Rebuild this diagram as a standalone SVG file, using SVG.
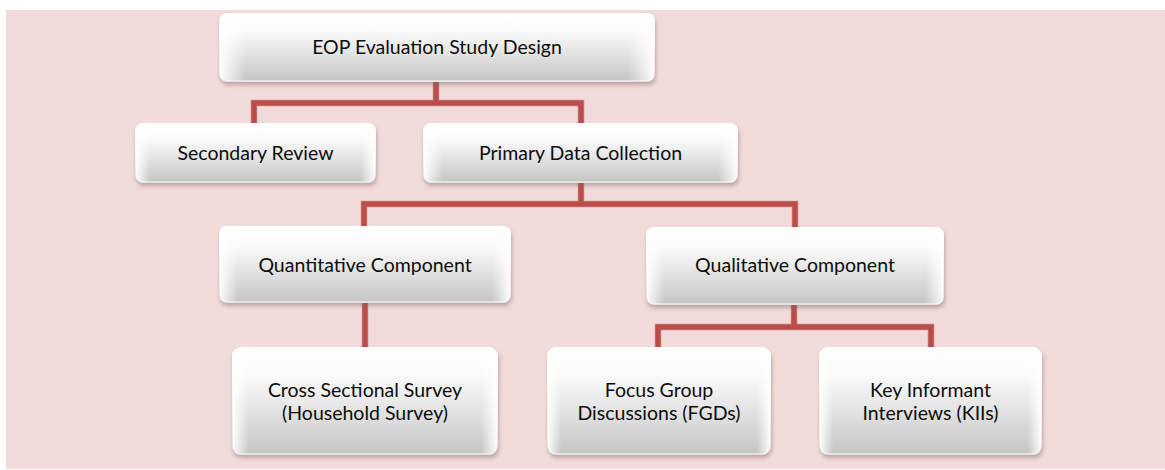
<svg xmlns="http://www.w3.org/2000/svg" width="1165" height="470" viewBox="0 0 1165 470">
<defs>
<linearGradient id="gloss" x1="0" y1="0" x2="0" y2="1">
<stop offset="0" stop-color="#ffffff"/>
<stop offset="0.25" stop-color="#fbfbfb"/>
<stop offset="0.55" stop-color="#e6e6e6"/>
<stop offset="1" stop-color="#c4c4c4"/>
</linearGradient>
<linearGradient id="edge" x1="0" y1="0" x2="1" y2="0">
<stop offset="0" stop-color="#ffffff" stop-opacity="0.95"/>
<stop offset="0.06" stop-color="#ffffff" stop-opacity="0"/>
<stop offset="0.94" stop-color="#ffffff" stop-opacity="0"/>
<stop offset="1" stop-color="#ffffff" stop-opacity="0.95"/>
</linearGradient>
<filter id="shadow" x="-10%" y="-10%" width="120%" height="130%">
<feDropShadow dx="1" dy="3" stdDeviation="2" flood-color="#7a6060" flood-opacity="0.45"/>
</filter>
</defs>
<style>
.box{fill:url(#gloss);filter:url(#shadow);}
.hl{fill:url(#edge);stroke:#ffffff;stroke-opacity:0.7;stroke-width:1.5;}
.lbl{font-family:Lato,"Liberation Sans",sans-serif;font-size:19.5px;fill:#0d0d0d;text-anchor:middle;}
.conn{fill:none;stroke:#bd4b48;stroke-width:5;stroke-linejoin:miter;}
.connsh{fill:none;stroke:#9a3634;stroke-width:6.5;stroke-opacity:0.5;}
</style>
<rect x="0" y="0" width="1165" height="470" fill="#ffffff"/>
<rect x="6" y="10" width="1159" height="459" fill="#f2dcdb"/>
<g id="connectors">
<path class="connsh" d="M436 82 V103 M254 123 V103 H581 V123 M581 183 V204 M364 226 V204 H795 V227 M365 303 V347 M794 305 V327 M658 347 V327 H931 V347"/>
<path class="conn" d="M436 82 V103 M254 123 V103 H581 V123 M581 183 V204 M364 226 V204 H795 V227 M365 303 V347 M794 305 V327 M658 347 V327 H931 V347"/>
</g>
<g id="n-top">
<rect class="box" x="219" y="13" width="436" height="69" rx="8"/>
<rect class="hl" x="220" y="14" width="434" height="67" rx="7"/>
<text class="lbl" x="437" y="54">EOP Evaluation Study Design</text>
</g>
<g id="n-secondary">
<rect class="box" x="135" y="123" width="241" height="60" rx="8"/>
<rect class="hl" x="136" y="124" width="239" height="58" rx="7"/>
<text class="lbl" x="255.5" y="160">Secondary Review</text>
</g>
<g id="n-primary">
<rect class="box" x="423" y="123" width="315" height="60" rx="8"/>
<rect class="hl" x="424" y="124" width="313" height="58" rx="7"/>
<text class="lbl" x="580.5" y="160">Primary Data Collection</text>
</g>
<g id="n-quant">
<rect class="box" x="219" y="226" width="292" height="77" rx="8"/>
<rect class="hl" x="220" y="227" width="290" height="75" rx="7"/>
<text class="lbl" x="365" y="272">Quantitative Component</text>
</g>
<g id="n-qual">
<rect class="box" x="646" y="227" width="298" height="78" rx="8"/>
<rect class="hl" x="647" y="228" width="296" height="76" rx="7"/>
<text class="lbl" x="795" y="272">Qualitative Component</text>
</g>
<g id="n-cross">
<rect class="box" x="232" y="347" width="266" height="108" rx="9"/>
<rect class="hl" x="233" y="348" width="264" height="106" rx="8"/>
<text class="lbl" x="365" y="397">Cross Sectional Survey</text>
<text class="lbl" x="365" y="420">(Household Survey)</text>
</g>
<g id="n-fgd">
<rect class="box" x="547" y="347" width="224" height="108" rx="9"/>
<rect class="hl" x="548" y="348" width="222" height="106" rx="8"/>
<text class="lbl" x="659" y="397">Focus Group</text>
<text class="lbl" x="659" y="420">Discussions (FGDs)</text>
</g>
<g id="n-kii">
<rect class="box" x="819" y="347" width="223" height="108" rx="9"/>
<rect class="hl" x="820" y="348" width="221" height="106" rx="8"/>
<text class="lbl" x="930.5" y="397">Key Informant</text>
<text class="lbl" x="930.5" y="420">Interviews (KIIs)</text>
</g>
</svg>
